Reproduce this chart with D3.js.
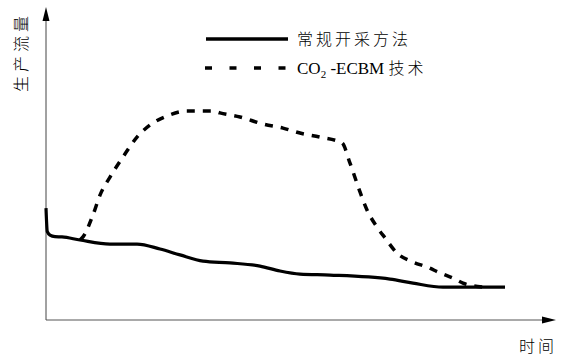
<!DOCTYPE html>
<html><head><meta charset="utf-8">
<script src="https://cdn.jsdelivr.net/npm/d3@7"></script>
<style>body{margin:0;background:#fff}svg{display:block}</style>
</head><body>
<script>
// Data (time in arbitrary units, flow in arbitrary units)
const seriesNames = ["常规开采方法", "CO₂-ECBM 技术"];
const conventionalTime = [0, 0.26, 0.8, 1.8, 3.2, 6.8, 12.8, 18.2, 22.8, 26.8, 31.4, 36.8, 42.8, 46.8, 50.8, 56.8, 68.8, 73.4, 79.4, 91.8];
const conventionalFlow = [36.1, 28.5, 27.4, 26.9, 26.8, 25.8, 24.5, 24.5, 22.9, 21.0, 19.0, 18.4, 17.4, 15.8, 14.8, 14.5, 13.2, 11.9, 10.6, 10.6];
const ecbmTime = [6.8, 7.4, 9.4, 10.8, 12.8, 15.4, 18.2, 20.8, 24.2, 28.2, 33.4, 34.8, 38.8, 43.4, 47.4, 50.8, 54.8, 59.2, 60.8, 62.8, 64.2, 66.2, 67.8, 70.2, 73.4, 76.2, 78.8, 81.4, 83.4, 87.4];
const ecbmFlow = [25.8, 26.8, 33.9, 40.3, 46.1, 52.6, 59.0, 62.9, 65.8, 67.4, 67.4, 66.8, 65.5, 63.2, 61.9, 60.3, 59.0, 57.1, 50.6, 41.3, 35.5, 30.0, 26.5, 21.6, 18.7, 17.1, 15.2, 13.5, 11.9, 10.6];
const xAxisLabel = "时间";
const yAxisLabel = "生产流量";

const W = 561, H = 357;
const svg = d3.select("body").append("svg").attr("width", W).attr("height", H);
const x = d3.scaleLinear().domain([0, 100]).range([46, 546]);
const y = d3.scaleLinear().domain([0, 100]).range([320, 10]);

const font = "'Liberation Serif','Noto Sans CJK SC',serif";

// axes
svg.append("line").attr("x1", x(0)).attr("x2", 552).attr("y1", y(0)).attr("y2", y(0))
  .attr("stroke", "#555").attr("stroke-width", 1);
svg.append("line").attr("x1", x(0)).attr("x2", x(0)).attr("y1", y(0)).attr("y2", 14)
  .attr("stroke", "#444").attr("stroke-width", 1);
// arrowheads
svg.append("path").attr("d", `M${x(0)},7 L${x(0)-3.5},21 L${x(0)+3.5},21 Z`).attr("fill", "#000");
svg.append("path").attr("d", `M556,${y(0)} L542,${y(0)-3.5} L542,${y(0)+3.5} Z`).attr("fill", "#000");

const line = d3.line().x(d => x(d[0])).y(d => y(d[1])).curve(d3.curveMonotoneX);
const conv = conventionalTime.map((t, i) => [t, conventionalFlow[i]]);
const ecbm = ecbmTime.map((t, i) => [t, ecbmFlow[i]]);

svg.append("path").datum(ecbm).attr("d", line).attr("fill", "none")
  .attr("stroke", "#000").attr("stroke-width", 3.5).attr("stroke-dasharray", "8,8");
svg.append("path").datum(conv).attr("d", line).attr("fill", "none")
  .attr("stroke", "#000").attr("stroke-width", 3.2);

// legend
const lg = svg.append("g");
lg.append("line").attr("x1", 206).attr("x2", 288).attr("y1", 39).attr("y2", 39)
  .attr("stroke", "#000").attr("stroke-width", 3.5);
lg.append("line").attr("x1", 205).attr("x2", 288).attr("y1", 68).attr("y2", 68)
  .attr("stroke", "#000").attr("stroke-width", 3.5).attr("stroke-dasharray", "7,17.5");
lg.append("text").attr("x", 297).attr("y", 45).attr("font-family", font).attr("font-size", 16)
  .attr("font-weight", 300).attr("letter-spacing", 3).text(seriesNames[0]);
const t2 = lg.append("text").attr("x", 297).attr("y", 74).attr("font-family", font).attr("font-size", 17);
t2.append("tspan").text("CO");
t2.append("tspan").attr("font-size", 11).attr("dy", 4).text("2");
t2.append("tspan").attr("dy", -4).text(" -ECBM ");
t2.append("tspan").attr("font-size", 16).attr("font-weight", 300).attr("letter-spacing", 3).text("技术");

// axis labels
svg.append("text").attr("transform", "translate(27,52) rotate(-90)").attr("text-anchor", "middle")
  .attr("font-family", font).attr("font-size", 16).attr("font-weight", 300).attr("letter-spacing", 4).text(yAxisLabel);
svg.append("text").attr("x", 538).attr("y", 352).attr("text-anchor", "middle")
  .attr("font-family", font).attr("font-size", 16).attr("font-weight", 300).attr("letter-spacing", 3).text(xAxisLabel);
</script>
</body></html>
